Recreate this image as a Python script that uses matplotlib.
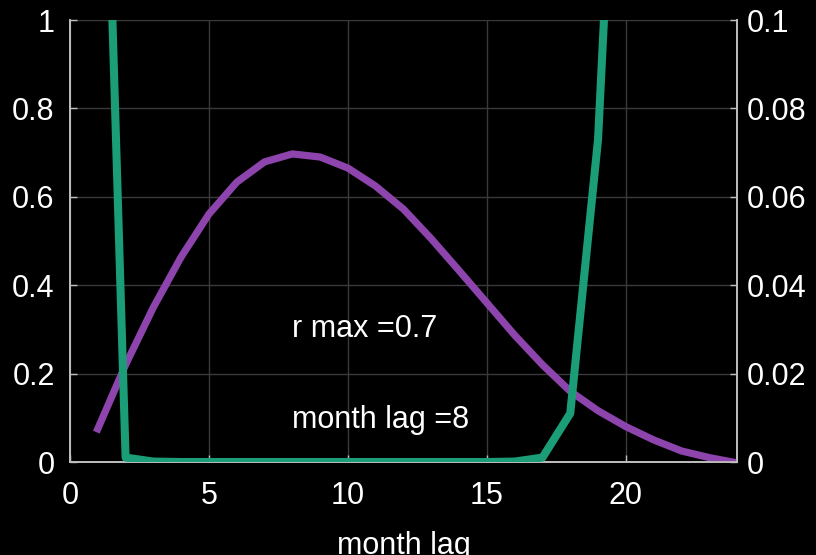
import matplotlib
matplotlib.use("Agg")
import matplotlib.pyplot as plt
import numpy as np

plt.rcParams['font.family'] = ['Liberation Sans', 'DejaVu Sans']

lag = list(range(1, 25))
r_vals = [0.075, 0.22, 0.35, 0.464, 0.561, 0.633, 0.679, 0.697, 0.69, 0.665,
          0.624, 0.572, 0.505, 0.433, 0.36, 0.287, 0.22, 0.16, 0.116, 0.08,
          0.05, 0.025, 0.01, -0.002]
p_vals = [0.21, 0.001, 0.0001, 0.0, 0.0, 0.0, 0.0, 0.0, 0.0, 0.0,
          0.0, 0.0, 0.0, 0.0, 0.0, 0.0001, 0.001, 0.011, 0.073, 0.2,
          0.4, 0.6, 0.8, 0.9]
left_ticks = [0, 0.2, 0.4, 0.6, 0.8, 1]
left_labels = ['0', '0.2', '0.4', '0.6', '0.8', '1']
right_ticks = [0, 0.02, 0.04, 0.06, 0.08, 0.1]
right_labels = ['0', '0.02', '0.04', '0.06', '0.08', '0.1']
x_ticks = [0, 5, 10, 15, 20]

purple = '#8e44ad'
green = '#1b9e77'
spine_c = '#bfbfbf'

fig = plt.figure(figsize=(8.16, 5.55), dpi=100, facecolor='black')
ax = fig.add_axes([70/816, 1-462/555, (737-70)/816, (462-20)/555])
ax.set_facecolor('black')
ax2 = ax.twinx()

ax.plot(lag, r_vals, color=purple, lw=5.2, zorder=3, clip_on=True)
ax2.plot(lag, p_vals, color=green, lw=5.8, zorder=4, clip_on=True)

ax.set_xlim(0, 24)
ax.set_ylim(0, 1)
ax2.set_ylim(0, 0.1)
ax.set_xticks(x_ticks)
ax.set_yticks(left_ticks)
ax.set_yticklabels(left_labels)
ax2.set_yticks(right_ticks)
ax2.set_yticklabels(right_labels)

ax.grid(True, color='#3a3a3a', lw=1.0)
ax.set_axisbelow(True)

for a in (ax, ax2):
    for s in a.spines.values():
        s.set_color(spine_c)
        s.set_linewidth(1.2)
    a.spines['top'].set_visible(False)
    a.tick_params(direction='in', colors='white', labelsize=22, length=5,
                  color=spine_c, width=1.0)
ax.tick_params(axis='x', pad=14)
ax.tick_params(axis='y', pad=11)
ax2.tick_params(axis='y', pad=7)

ax.set_xlabel('month lag', color='white', fontsize=22, labelpad=14)

ax.text(8, 0.3, 'r max =0.7', color='white', fontsize=22, ha='left', va='center')
ax.text(8, 0.095, 'month lag =8', color='white', fontsize=22, ha='left', va='center')

fig.savefig('out.png', dpi=100, facecolor='black')
